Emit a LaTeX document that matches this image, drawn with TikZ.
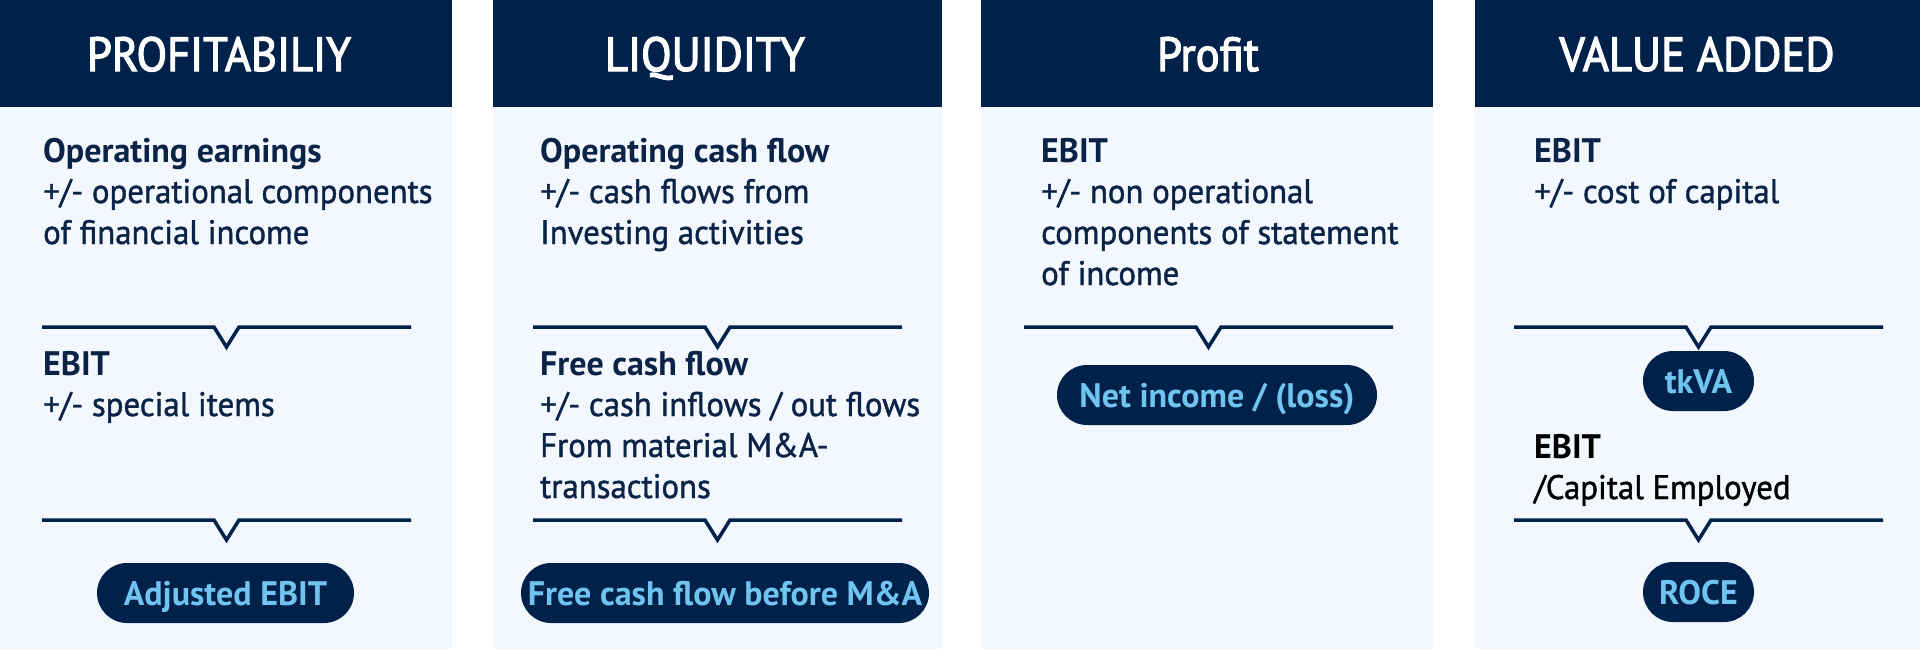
\documentclass[tikz,border=0pt]{standalone}
\usepackage{fontspec}
\setmainfont{PT Sans}[UprightFeatures={FakeStretch=0.965,FakeBold=1.2}]
\newfontfamily\headfont{PT Sans}[FakeStretch=0.93,FakeBold=2.5]
\usetikzlibrary{positioning}
\definecolor{navy}{HTML}{00214A}
\definecolor{panel}{HTML}{F2F8FE}
\definecolor{txt}{HTML}{0B2346}
\definecolor{pilltxt}{HTML}{70C4F0}
\tikzset{
  x=1pt, y=-1pt,
  headbox/.style={fill=navy, draw=none},
  panelbox/.style={fill=panel, draw=none},
  headtxt/.style={anchor=base, inner sep=0, text=white, font=\headfont\fontsize{48}{48}\selectfont},
  bodytxt/.style={anchor=base west, inner sep=0, text=txt, align=left, font=\fontsize{34}{41}\selectfont},
  pill/.style={fill=navy, rounded corners=30pt, minimum height=60pt, inner sep=0, text height=24pt, text depth=0pt, text=pilltxt, font=\bfseries\fontsize{34}{34}\selectfont},
  sep/.style={draw=navy, line width=3.5pt, line join=miter},
}
\newcommand{\notchline}[3]{% left, right, y
  \pgfmathsetmacro{\mid}{(#1+#2)/2}
  \draw[sep] (#1,#3) -- (\mid-12.5,#3) -- (\mid,#3+20) -- (\mid+12.5,#3) -- (#2,#3);
}
\begin{document}
\begin{tikzpicture}
\useasboundingbox (0,0) rectangle (1920,649);
% column 1
\fill[panelbox] (0,107) rectangle (452,649);
\fill[headbox] (0,0) rectangle (452,107);
\node[headtxt] (h1) at (219,71) {PROFITABILIY};
\node[bodytxt] (a1) at (43,244) {\textbf{Operating earnings}\\+/- operational components\\of financial income};
\notchline{42}{411}{327}
\node[bodytxt] (b1) at (43,416) {\textbf{EBIT}\\+/- special items};
\notchline{42}{411}{520}
\node[pill, minimum width=257pt] (p1) at (225.5,593) {Adjusted EBIT};
% column 2
\fill[panelbox] (493,107) rectangle (942,649);
\fill[headbox] (493,0) rectangle (942,107);
\node[headtxt] (h2) at (705,71) {LIQUIDITY};
\node[bodytxt] (a2) at (540,244) {\textbf{Operating cash flow}\\+/- cash flows from\\Investing activities};
\notchline{533}{902}{327}
\node[bodytxt] (b2) at (540,498) {\textbf{Free cash flow}\\+/- cash inflows / out flows\\From material M\&A-\\transactions};
\notchline{533}{902}{520}
\node[pill, minimum width=408pt] (p2) at (725,593) {Free cash flow before M\&A};
% column 3
\fill[panelbox] (981,107) rectangle (1433,649);
\fill[headbox] (981,0) rectangle (1433,107);
\node[headtxt] (h3) at (1208,71) {Profit};
\node[bodytxt] (a3) at (1041,285) {\textbf{EBIT}\\+/- non operational\\components of statement\\of income};
\notchline{1024}{1393}{327}
\node[pill, minimum width=320pt] (p3) at (1217,395) {Net income / (loss)};
% column 4
\fill[panelbox] (1475,107) rectangle (1920,649);
\fill[headbox] (1475,0) rectangle (1920,107);
\node[headtxt] (h4) at (1697,71) {VALUE ADDED};
\node[bodytxt] (a4) at (1534,203) {\textbf{EBIT}\\+/- cost of capital};
\notchline{1514}{1883}{327}
\node[pill, minimum width=111pt] (p4) at (1698.5,381) {tkVA};
\node[bodytxt, text=black] (b4) at (1534,499) {\textbf{EBIT}\\/Capital Employed};
\notchline{1514}{1883}{520}
\node[pill, minimum width=111pt] (p5) at (1698.5,592) {ROCE};
\end{tikzpicture}
\end{document}
